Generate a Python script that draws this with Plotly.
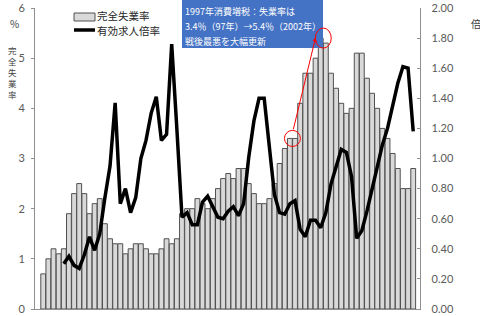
import plotly.graph_objects as go
from plotly.subplots import make_subplots

# ---- data ----
years_bar = list(range(1948, 2021))
unemployment = [0.7, 1.0, 1.2, 1.1, 1.2, 1.9, 2.3, 2.5, 2.3, 1.9,
                2.1, 2.2, 1.7, 1.4, 1.3, 1.3, 1.1, 1.2, 1.3, 1.3,
                1.2, 1.1, 1.1, 1.2, 1.4, 1.3, 1.4, 1.9, 2.0, 2.0,
                2.2, 2.1, 2.0, 2.2, 2.4, 2.6, 2.7, 2.6, 2.8, 2.8,
                2.5, 2.3, 2.1, 2.1, 2.2, 2.5, 2.9, 3.2, 3.4, 3.4,
                4.1, 4.7, 4.7, 5.0, 5.4, 5.3, 4.7, 4.4, 4.1, 3.9,
                4.0, 5.1, 5.1, 4.6, 4.3, 4.0, 3.6, 3.4, 3.1, 2.8,
                2.4, 2.4, 2.8]

years_ratio = list(range(1952, 2021))
job_ratio = [0.30, 0.35, 0.29, 0.27, 0.36, 0.48, 0.39, 0.50, 0.74, 0.95,
             1.37, 0.70, 0.80, 0.64, 0.74, 1.00, 1.12, 1.30, 1.41, 1.12,
             1.16, 1.76, 1.20, 0.61, 0.64, 0.56, 0.56, 0.71, 0.75, 0.68,
             0.61, 0.60, 0.65, 0.68, 0.62, 0.70, 1.01, 1.25, 1.40, 1.40,
             1.08, 0.76, 0.64, 0.63, 0.70, 0.72, 0.53, 0.48, 0.59, 0.59,
             0.54, 0.64, 0.83, 0.95, 1.06, 1.04, 0.88, 0.47, 0.52, 0.65,
             0.80, 0.93, 1.09, 1.20, 1.36, 1.50, 1.61, 1.60, 1.18]

bar_name = "完全失業率"
line_name = "有効求人倍率"
left_ticks = [0, 1, 2, 3, 4, 5, 6]
right_ticks = [0.0, 0.2, 0.4, 0.6, 0.8, 1.0, 1.2, 1.4, 1.6, 1.8, 2.0]

note_lines = ["1997年消費増税：失業率は",
              "3.4％（97年）→5.4％（2002年）",
              "戦後最悪を大幅更新"]

# highlighted points (year, value)
low_pt = (1996.5, 3.4)
high_pt = (2002.5, 5.4)

JP = "Noto Sans CJK JP"
NUM = "Lato"
BAR_FILL = "#D9D9D9"
BAR_LINE = "#505050"

# plot area in pixels: x 35..445, y 8..309
L, R, T, B = 35, 445, 8, 309
def px(x):
    return (x - L) / (R - L)
def py(y):
    return (B - y) / (B - T)

fig = make_subplots(specs=[[{"secondary_y": True}]])

fig.add_trace(go.Bar(
    x=years_bar, y=unemployment, name=bar_name,
    marker=dict(color=BAR_FILL, line=dict(color=BAR_LINE, width=1)),
), secondary_y=False)

fig.add_trace(go.Scatter(
    x=years_ratio, y=job_ratio, name=line_name, mode="lines",
    line=dict(color="#000000", width=3.5),
), secondary_y=True)

fig.update_layout(
    width=480, height=316,
    margin=dict(l=L, r=480 - R, t=T, b=316 - B),
    plot_bgcolor="white", paper_bgcolor="white",
    bargap=0.06,
    showlegend=False,
    font=dict(family=JP),
)

fig.update_xaxes(range=[1946.4, 2021.4], showline=True, linecolor="#909090",
                 linewidth=1, showticklabels=False, ticks="", showgrid=False,
                 zeroline=False, automargin=False)

fig.update_yaxes(range=[0, 6], tickvals=left_ticks, showline=True,
                 linecolor="#909090", linewidth=1, ticks="outside", ticklen=3,
                 tickcolor="#909090", showgrid=False, zeroline=False,
                 tickfont=dict(family=NUM, size=11, color="#595959"),
                 ticklabelstandoff=4, automargin=False, secondary_y=False)

fig.update_yaxes(range=[0, 2], tickvals=right_ticks, tickformat=".2f",
                 showline=True, linecolor="#909090", linewidth=1,
                 ticks="inside", ticklen=3, tickcolor="#909090",
                 showgrid=False, zeroline=False,
                 tickfont=dict(family=NUM, size=11, color="#595959"),
                 ticklabelstandoff=8, automargin=False, secondary_y=True)

def label(x, y, text, size, color="#404040", xanchor="center"):
    fig.add_annotation(xref="paper", yref="paper", x=px(x), y=py(y),
                       xanchor=xanchor, yanchor="middle", text=text,
                       showarrow=False, borderpad=0,
                       font=dict(family=JP, size=size, color=color))

# axis titles
label(14, 23, "%", 10)
label(12, 72, "完<br>全<br>失<br>業<br>率", 8.5)
label(476, 23, "倍", 10)

# legend (drawn manually to match compact layout)
fig.add_shape(type="rect", xref="paper", yref="paper",
              x0=px(74), x1=px(95), y0=py(21), y1=py(13),
              fillcolor=BAR_FILL, line=dict(color=BAR_LINE, width=1))
fig.add_shape(type="line", xref="paper", yref="paper",
              x0=px(74), x1=px(95), y0=py(30), y1=py(30),
              line=dict(color="#000000", width=3.5))
label(96, 16, bar_name, 10.5, "#262626", "left")
label(96, 30, line_name, 10.5, "#262626", "left")

# note box
fig.add_shape(type="rect", xref="paper", yref="paper",
              x0=px(182), x1=px(323), y0=py(48), y1=py(0),
              fillcolor="#4472C4", line=dict(color="#4472C4", width=0))
for line_text, ypix in zip(note_lines, [12, 26.5, 41]):
    label(184, ypix, line_text, 9, "white", "left")

# red circles
fig.add_shape(type="circle", xref="x", yref="y",
              x0=low_pt[0] - 1.55, x1=low_pt[0] + 1.55,
              y0=low_pt[1] - 0.16, y1=low_pt[1] + 0.16,
              line=dict(color="#FF0000", width=1))
fig.add_shape(type="circle", xref="x", yref="y",
              x0=high_pt[0] - 1.55, x1=high_pt[0] + 1.55,
              y0=high_pt[1] - 0.2, y1=high_pt[1] + 0.2,
              line=dict(color="#FF0000", width=1))
# red arrow
fig.add_annotation(xref="x", yref="y", axref="x", ayref="y",
                   x=high_pt[0] - 1.5, y=high_pt[1] + 0.01,
                   ax=low_pt[0] + 0.1, ay=low_pt[1] + 0.15,
                   text="", showarrow=True, arrowhead=2, arrowsize=0.8,
                   arrowwidth=1, arrowcolor="#FF0000", standoff=0)

fig.write_html("out.html")
